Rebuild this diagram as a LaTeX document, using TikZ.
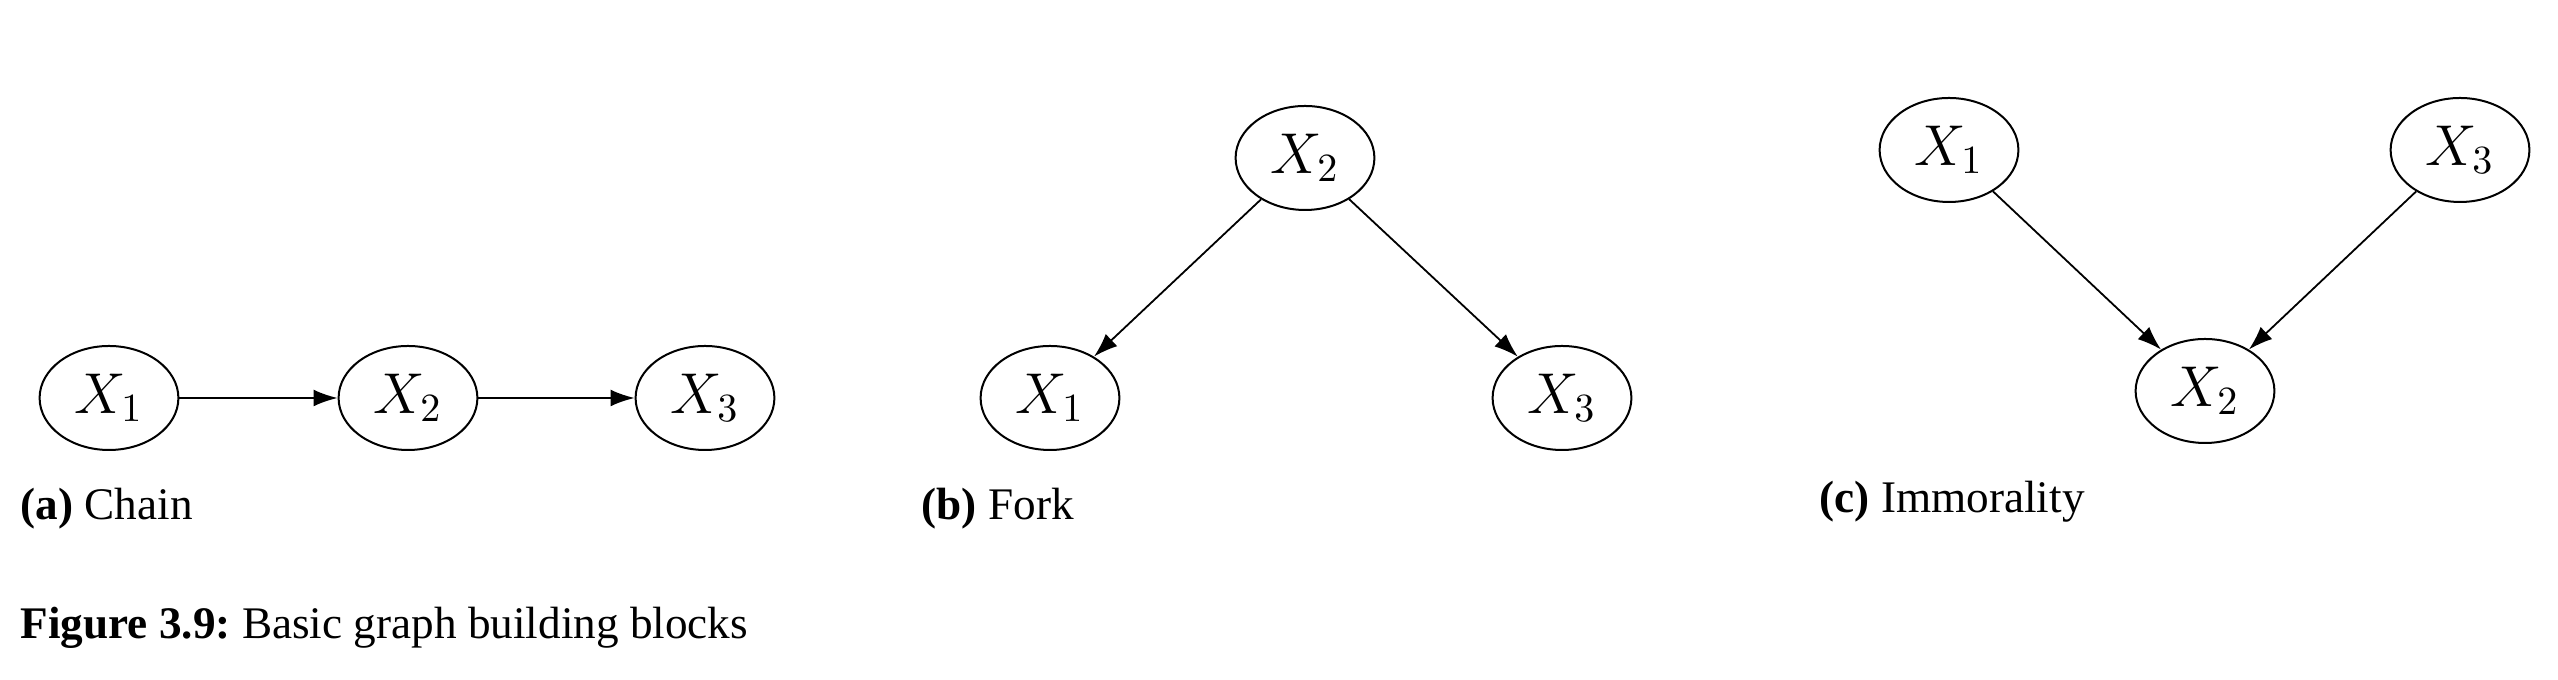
\documentclass[tikz,border=0pt]{standalone}
\usepackage{fontspec}
\setmainfont{Liberation Serif}
\usetikzlibrary{arrows.meta,shapes.geometric}
\begin{document}
\frenchspacing
\begin{tikzpicture}[x=0.25pt,y=-0.25pt,
  var/.style={draw,ellipse,line width=0.5pt,minimum width=34.7pt,minimum height=26pt,inner sep=0pt,font=\fontsize{14}{16}\selectfont},
  edge/.style={line width=0.45pt,-{Latex[length=6pt,width=4.2pt]}},
  sublabel/.style={anchor=west,inner sep=0pt,font=\fontsize{11.3}{13}\selectfont}]
\useasboundingbox (0,0) rectangle (2558,680);
% (a) Chain
\node[var] (a1) at (109,398) {$X_1$};
\node[var] (a2) at (408,398) {$X_2$};
\node[var] (a3) at (705,398) {$X_3$};
\draw[edge] (a1) -- (a2);
\draw[edge] (a2) -- (a3);
\node[sublabel] (la) at (20,509) {\textbf{(a)} Chain};
% (b) Fork
\node[var] (b2) at (1305,158) {$X_2$};
\node[var] (b1) at (1050,398) {$X_1$};
\node[var] (b3) at (1562,398) {$X_3$};
\draw[edge] (b2) -- (b1);
\draw[edge] (b2) -- (b3);
\node[sublabel] (lb) at (921,509) {\textbf{(b)} Fork};
% (c) Immorality
\node[var] (c1) at (1949,150) {$X_1$};
\node[var] (c3) at (2460,150) {$X_3$};
\node[var] (c2) at (2205,391) {$X_2$};
\draw[edge] (c1) -- (c2);
\draw[edge] (c3) -- (c2);
\node[sublabel] (lc) at (1819,502) {\textbf{(c)} Immorality};
% caption
\node[sublabel] (cap) at (20,628) {\textbf{Figure 3.9:} Basic graph building blocks};
\end{tikzpicture}
\end{document}
